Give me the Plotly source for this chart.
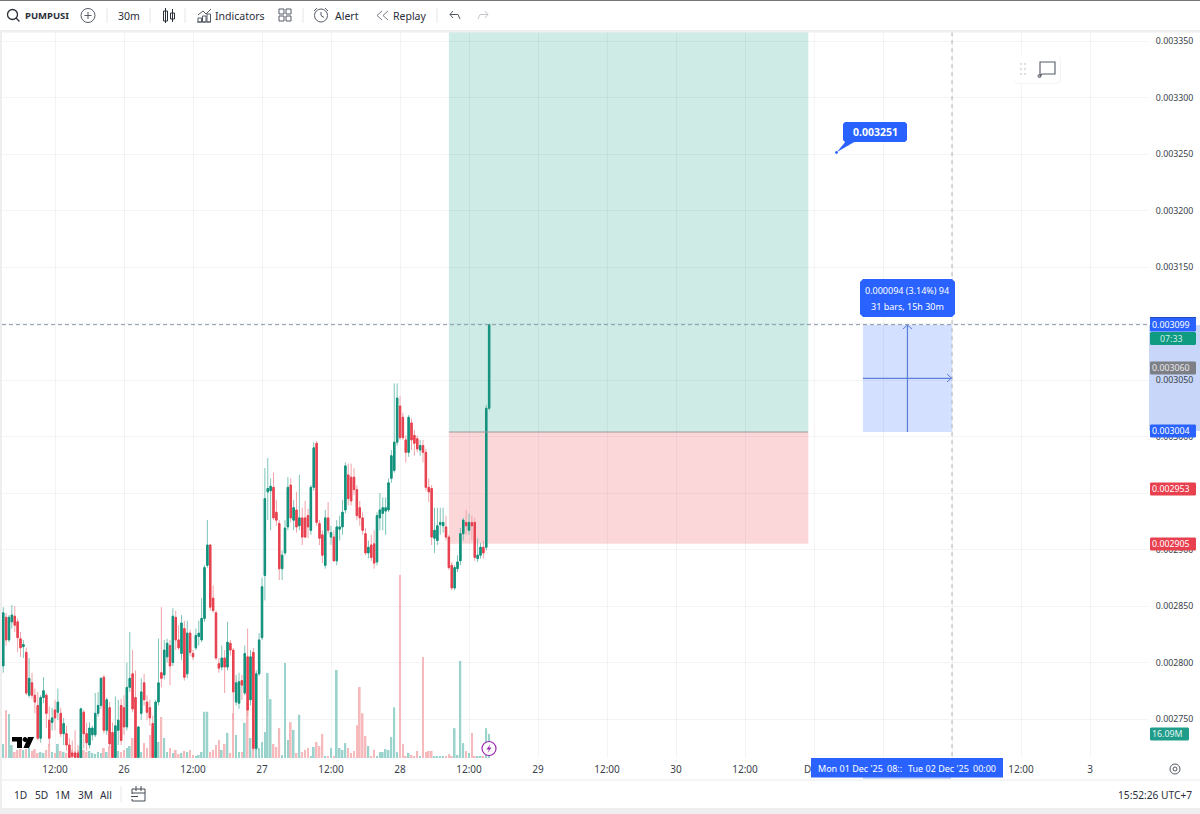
import numpy as np
import pandas as pd
import plotly.graph_objects as go

# prices in millionths
opens = [2797,2840,2820,2836,2841,2836,2821,2814,2809,2771,
         2782,2771,2762,2733,2769,2771,2749,2747,2758,2756,
         2755,2737,2737,2727,2720,2720,2720,2716,2756,2737,
         2727,2736,2736,2755,2762,2787,2740,2760,2738,2716,
         2740,2762,2760,2743,2778,2790,2769,2716,2755,2782,
         2765,2760,2746,2716,2765,2791,2789,2805,2815,2800,
         2840,2820,2808,2830,2790,2826,2808,2813,2823,2820,
         2839,2886,2904,2857,2844,2799,2796,2804,2796,2817,
         2811,2765,2764,2784,2773,2805,2767,2809,2724,2790,
         2822,2877,2951,2952,2955,2933,2923,2883,2897,2920,
         2957,2926,2935,2921,2928,2928,2930,2917,2955,2994,
         2923,2913,2886,2928,2911,2911,2890,2918,2920,2935,
         2966,2964,2964,2953,2937,2928,2914,2897,2904,2905,
         2889,2928,2932,2934,2935,2963,2970,2995,3027,3017,
         2997,2986,3012,3001,2998,2988,2992,2986,2955,2954,
         2910,2908,2922,2921,2920,2911,2886,2866,2883,2890,
         2914,2924,2917,2924,2924,2892,2895,2902,2902,3025]
highs = [2849,2844,2842,2851,2850,2839,2827,2820,2813,2804,
         2791,2777,2774,2771,2787,2773,2761,2760,2767,2777,
         2760,2751,2744,2733,2731,2740,2727,2760,2758,2747,
         2747,2744,2773,2774,2787,2789,2769,2765,2747,2770,
         2767,2768,2771,2800,2827,2811,2793,2743,2786,2790,
         2771,2767,2753,2767,2821,2849,2820,2821,2820,2848,
         2846,2833,2842,2837,2837,2829,2811,2830,2837,2857,
         2886,2926,2905,2868,2846,2804,2815,2811,2836,2820,
         2813,2789,2791,2789,2815,2830,2811,2813,2793,2826,
         2875,2972,2981,2963,2968,2944,2926,2899,2926,2964,
         2963,2944,2951,2966,2937,2943,2936,2957,2995,2996,
         2926,2917,2935,2942,2921,2917,2926,2930,2944,2977,
         2976,2976,2972,2957,2943,2933,2919,2908,2913,2917,
         2933,2950,2946,2946,2963,2988,3047,3047,3036,3021,
         3001,3019,3016,3006,3001,2997,2997,2989,2963,2957,
         2937,2937,2937,2937,2930,2913,2889,2886,2895,2919,
         2928,2935,2932,2930,2928,2910,2906,2908,3028,3099]
lows = [2791,2815,2818,2830,2827,2809,2805,2804,2771,2769,
        2768,2755,2731,2729,2764,2742,2726,2740,2740,2749,
        2734,2727,2722,2715,2712,2712,2712,2712,2724,2722,
        2724,2731,2734,2752,2759,2737,2736,2724,2712,2712,
        2727,2727,2736,2740,2774,2756,2712,2712,2749,2762,
        2749,2744,2712,2712,2762,2778,2785,2800,2780,2797,
        2811,2811,2802,2784,2786,2806,2802,2811,2815,2818,
        2836,2884,2846,2844,2802,2791,2793,2773,2793,2806,
        2749,2762,2759,2767,2771,2753,2762,2722,2722,2788,
        2820,2855,2926,2917,2926,2921,2873,2873,2895,2917,
        2924,2917,2915,2917,2904,2910,2910,2913,2952,2921,
        2904,2888,2883,2914,2904,2889,2886,2908,2913,2932,
        2939,2939,2948,2926,2921,2913,2895,2892,2890,2883,
        2886,2917,2917,2913,2933,2959,2968,2992,2997,2997,
        2977,2982,2988,2983,2986,2983,2977,2952,2942,2904,
        2897,2904,2913,2915,2908,2882,2864,2864,2880,2886,
        2908,2913,2913,2908,2890,2889,2892,2892,2899,3023]
closes = [2844,2820,2840,2842,2833,2822,2813,2816,2773,2786,
          2771,2765,2733,2769,2775,2755,2733,2751,2751,2765,
          2737,2746,2727,2716,2717,2716,2716,2759,2737,2729,
          2742,2742,2755,2762,2786,2740,2767,2728,2716,2744,
          2749,2731,2743,2778,2786,2759,2716,2743,2774,2767,
          2756,2751,2716,2765,2782,2786,2811,2817,2797,2841,
          2820,2813,2835,2787,2826,2809,2805,2824,2826,2839,
          2884,2904,2849,2846,2804,2795,2804,2796,2818,2811,
          2774,2782,2783,2780,2808,2758,2805,2724,2790,2820,
          2867,2945,2954,2956,2928,2926,2883,2895,2919,2955,
          2928,2937,2920,2928,2911,2911,2920,2955,2990,2924,
          2910,2895,2928,2917,2915,2890,2920,2920,2933,2974,
          2945,2943,2953,2930,2928,2917,2897,2902,2893,2888,
          2930,2935,2937,2937,2959,2983,2995,3034,2999,2999,
          2986,3017,2997,2994,2989,2992,2986,2955,2951,2911,
          2917,2921,2924,2924,2911,2884,2866,2884,2889,2914,
          2926,2921,2924,2921,2893,2895,2902,2897,3025,3099]
# volume in millions
volumes = [9.4,32,29.5,8.7,4,5.4,6,5.4,6,6.7,
           4.7,6,3.4,4,3.4,5.4,9.4,4,3.4,9.4,
           4.7,4,3.4,4,5.4,4.7,5.4,8,5.4,4,
           4.7,3.4,2.7,4,3.4,6.7,4,8,5.4,9.4,
           4.7,4,5.4,6.7,8,13.4,16.8,3.4,4,10,
           6.7,15.4,20,4.7,10.7,27.5,13.4,4,6.7,3.4,
           5.4,2.7,3.4,4.7,4,5.4,2,1.3,2,4,
           31,31,4,5.4,8.7,12,5.4,9.4,16.8,3.4,
           30,15.4,4,4,23.5,33.5,13.4,23.5,10,6.7,
           10.7,17.4,57,39.5,9.4,7.4,20,2,63.7,12,
           24,18.8,3.4,29,4,5.4,6.7,1.3,7.4,10.7,
           8,16.1,1.3,1.3,6.7,1.3,59,6.7,5.4,10,
           6.7,3.4,4.7,22,47.6,30,14.7,8,1.3,5.4,
           1.3,4,4,6,5.4,14,34,4,122.6,9.4,
           0.7,3.4,2,0.7,4.7,0.7,67.7,4,4.7,4.7,
           1.3,1.3,1.3,1.3,1.3,2.7,1.3,20,2,65,
           10,4.7,3.4,16.8,1.3,1.3,1.3,1.3,20,16.09]

tick_times = ["2025-11-25 12:00","2025-11-26 00:00","2025-11-26 12:00","2025-11-27 00:00",
              "2025-11-27 12:00","2025-11-28 00:00","2025-11-28 12:00","2025-11-29 00:00",
              "2025-11-29 12:00","2025-11-30 00:00","2025-11-30 12:00","2025-12-01 00:00",
              "2025-12-01 12:00","2025-12-02 00:00","2025-12-02 12:00","2025-12-03 00:00"]
# the blank ones sit under the blue crosshair box
tick_labels = ["12:00","26","12:00","27","12:00","28","12:00","29",
               "12:00","30","12:00","","","","12:00","3"]
price_ticks = [0.00275,0.0028,0.00285,0.0029,0.00295,0.003,0.00305,0.0031,0.00315,0.0032,0.00325,0.0033,0.00335]
price_labels = ["0.002750","0.002800","0.002850","0.002900","","0.003000","0.003050","",
                "0.003150","0.003200","0.003250","0.003300","0.003350"]

entry_price = 0.003004
stop_price = 0.002905
target_price = 0.00340
last_price = 0.003099
trade_start = "2025-11-28 08:30"
trade_end = "2025-11-30 23:00"
measure_start = "2025-12-01 08:30"
measure_mid = "2025-12-01 16:15"
measure_end = "2025-12-02 00:00"

TEAL = "#12917c"
RED = "#e8404f"
BLUE = "#2962ff"
INK = "#2a2e39"
GREY = "#555a66"
FONT = "Noto Sans"

times = pd.date_range("2025-11-25 03:00", periods=len(closes), freq="30min")
o = np.array(opens) / 1e6
h = np.array(highs) / 1e6
l = np.array(lows) / 1e6
c = np.array(closes) / 1e6
vol_colors = ["#9ad3cb" if b >= a else "#f6b9bc" for a, b in zip(opens, closes)]


# chrome is placed in page pixels
def px(x):
    return (x - 2) / 1146


def py(y):
    return (758 - y) / 726


shapes = []
notes = []


def line(x0, y0, x1, y1, color=INK, w=1, dash="solid", layer="above"):
    shapes.append(dict(type="line", xref="paper", yref="paper", x0=px(x0), x1=px(x1), y0=py(y0), y1=py(y1),
                       line=dict(color=color, width=w, dash=dash), layer=layer))


def box(x0, y0, x1, y1, fill=None, edge=None, w=1, layer="above"):
    shapes.append(dict(type="rect", xref="paper", yref="paper", x0=px(x0), x1=px(x1), y0=py(y0), y1=py(y1),
                       fillcolor=fill or "rgba(0,0,0,0)", line=dict(color=edge or "rgba(0,0,0,0)", width=w), layer=layer))


def ring(cx, cy, r, edge=INK, w=1, fill=None):
    shapes.append(dict(type="circle", xref="paper", yref="paper", x0=px(cx - r), x1=px(cx + r), y0=py(cy - r), y1=py(cy + r),
                       fillcolor=fill or "rgba(0,0,0,0)", line=dict(color=edge, width=w)))


def poly(points, fill=None, edge=None, w=1, closed=True):
    d = "M " + " L ".join(f"{px(x):.5f},{py(y):.5f}" for x, y in points) + (" Z" if closed else "")
    shapes.append(dict(type="path", xref="paper", yref="paper", path=d, fillcolor=fill or "rgba(0,0,0,0)",
                       line=dict(color=edge or "rgba(0,0,0,0)", width=w)))


def rounded(x0, y0, x1, y1, fill, r=2, edge=None):
    poly([(x0 + r, y0), (x1 - r, y0), (x1, y0 + r), (x1, y1 - r), (x1 - r, y1), (x0 + r, y1), (x0, y1 - r), (x0, y0 + r)],
         fill=fill, edge=edge)


def text(x, y, s, size=10.5, color=INK, anchor="center", bold=False):
    notes.append(dict(xref="paper", yref="paper", x=px(x), y=py(y), text=f"<b>{s}</b>" if bold else s, showarrow=False,
                      xanchor=anchor, yanchor="middle", font=dict(family=FONT, size=size, color=color), borderpad=0))


def tag(y, s, fill, color="#ffffff", x1=1196, h=13):
    rounded(1150, y - h / 2, x1, y + h / 2, fill, r=1)
    text((1150 + x1) / 2 - 2, y, s, size=8.8, color=color)


# page frame
box(0, 0, 1200, 1, fill="#77747c")
box(0, 30, 1200, 32.5, fill="#eeeeee")
box(0, 30, 2, 812, fill="#eeeeee")
box(0, 808, 1200, 814, fill="#eeeeee")
line(2, 780, 1200, 780, color="#ebebeb")
line(121, 786, 121, 802, color="#e6e6e6")

# top toolbar
ring(12.5, 14.5, 5, w=1.3)
line(16, 18, 19.5, 21.5, w=1.3)
text(24, 15.5, "PUMPUSI", size=9.5, anchor="left", bold=True)
ring(88, 15.5, 7, GREY)
line(84.5, 15.5, 91.5, 15.5, color=GREY)
line(88, 12, 88, 19, color=GREY)
for sx in [107, 150, 185, 303, 437]:
    line(sx, 8, sx, 23, color="#e6e6e6")
text(129, 15.5, "30m")
box(163.5, 11, 167.5, 21, edge=INK)
line(165.5, 8, 165.5, 23)
box(170.5, 13, 174.5, 19, edge=INK)
line(172.5, 9, 172.5, 22)
poly([(198, 15), (203, 11), (206, 14), (211, 9)], edge=GREY, closed=False)
for bx, by in [(198, 18), (202.5, 16), (207, 14)]:
    box(bx, by, bx + 3.5, 22, edge=GREY)
line(197, 22, 211, 22, color=GREY)
text(240, 15.5, "Indicators")
for bx in [279, 286]:
    for by in [9, 16]:
        box(bx, by, bx + 5, by + 5, edge=GREY)
ring(321, 15.5, 6.5, GREY)
line(321, 12, 321, 15.5, color=GREY)
line(321, 15.5, 324, 17.5, color=GREY)
line(314, 11, 317, 8, color=GREY)
line(325, 8, 328, 11, color=GREY)
text(347, 15.5, "Alert")
poly([(382, 11), (377, 15.5), (382, 20)], edge="#777c88", closed=False)
poly([(388, 11), (383, 15.5), (388, 20)], edge="#777c88", closed=False)
text(410, 15.5, "Replay")
poly([(453, 11), (450, 14.5), (453, 18)], edge=GREY, closed=False)
poly([(450, 14.5), (458, 14.5), (460, 19)], edge=GREY, closed=False)
poly([(485, 11), (488, 14.5), (485, 18)], edge="#c4c6cc", closed=False)
poly([(488, 14.5), (480, 14.5), (478, 19)], edge="#c4c6cc", closed=False)

# bottom toolbar
for bx, s in zip([20, 41, 62, 85, 106], ["1D", "5D", "1M", "3M", "All"]):
    text(bx, 794.5, s, size=10.2)
box(132, 789, 145, 801, edge="#444a55")
line(136, 786, 136, 791, color="#444a55")
line(141, 786, 141, 791, color="#444a55")
line(132, 793, 145, 793, color="#444a55")
box(129, 794, 137, 799, fill="#ffffff")
line(131, 796.5, 138, 796.5, color="#444a55")
text(1193, 794.5, "15:52:26 UTC+7", size=10.2, anchor="right")
ring(1175, 769, 5, GREY)
ring(1175, 769, 2, GREY)

# TradingView mark
poly([(12, 737), (22, 737), (22, 748), (17, 748), (17, 741.5), (12, 741.5)], fill="#000000")
ring(25, 739.5, 2, "#000000", fill="#000000")
poly([(28, 737), (34, 737), (29, 748), (23.5, 748)], fill="#000000")

# lightning badge
ring(489, 748.5, 7, "#9c27b0", w=1.2, fill="#ffffff")
poly([(490.5, 744), (486.5, 749.5), (489, 749.5), (487.5, 753), (491.5, 747.5), (489, 747.5)], fill="#9c27b0")

# floating widget
rounded(1014, 55, 1061, 84, "#f3f3f3", r=3)
rounded(1014, 55, 1060, 83, "#ffffff", r=3)
for dy in [64, 69, 74]:
    for dx in [1021, 1025]:
        ring(dx, dy, 0.5, "#c8c8c8")
poly([(1040, 62), (1055, 62), (1055, 74), (1042, 74), (1040, 76)], edge=GREY, w=1.1)
ring(1039.5, 76, 1.5, GREY)

# axis markers
box(1149, 325, 1200, 431, fill="#c8d7f9", layer="below")
line(1150, 317.5, 1196, 317.5, color="#1a3a8a", w=1)
tag(324.5, "0.003099", BLUE, h=14)
tag(338.5, "07:33", "#0e9b82", color="#cdeee6")
tag(368, "0.003060", "#7d7f86", color="#e8e8e8")
tag(431, "0.003004", BLUE)
tag(489, "0.002953", RED)
tag(544, "0.002905", RED)
tag(734, "16.09M", "#1f9d8a", color="#e4f6f2", x1=1189)

# time range markers
text(808, 769, "D", size=10, color="#3a3f4b")
box(863, 776, 951, 779, fill="#c8d7f9")
box(811, 758, 1003, 777.5, fill=BLUE)
text(817, 768, "Mon 01 Dec '25", size=9, color="#ffffff", anchor="left")
text(886, 768, "08::", size=9, color="#ffffff", anchor="left")
text(907, 768, "Tue 02 Dec '25", size=9, color="#ffffff", anchor="left")
text(972, 768, "00:00", size=9, color="#ffffff", anchor="left")

# measure tool labels and arrows
rounded(860, 279, 955, 317, BLUE, r=3)
text(907.5, 290, "0.000094 (3.14%) 94", size=9, color="#ffffff")
text(907.5, 306, "31 bars, 15h 30m", size=9, color="#ffffff")
poly([(947, 374), (951.5, 378), (947, 382)], edge="#5b7fd8", closed=False)
poly([(903, 329), (907.5, 325), (912, 329)], edge="#5b7fd8", closed=False)

# price note
rounded(843, 122, 907, 142, BLUE, r=2)
poly([(846, 141), (856, 141), (837, 152)], fill=BLUE)
ring(836.5, 152.5, 1, BLUE, fill=BLUE)
text(875, 132, "0.003251", size=10.5, color="#ffffff", bold=True)


def price_rect(x0, x1, y0, y1, fill):
    return dict(type="rect", xref="x", yref="y2", x0=x0, x1=x1, y0=y0, y1=y1, fillcolor=fill,
                line=dict(width=0), layer="below")


def price_line(x0, x1, y0, y1, color, w=1, dash="solid", layer="above"):
    return dict(type="line", xref="x", yref="y2", x0=x0, x1=x1, y0=y0, y1=y1,
                line=dict(color=color, width=w, dash=dash), layer=layer)


range_left, range_right = "2025-11-25 02:47", "2025-12-03 10:05"
data_shapes = [
    price_rect(trade_start, trade_end, entry_price, target_price, "rgba(8,153,129,0.20)"),
    price_rect(trade_start, trade_end, stop_price, entry_price, "rgba(242,54,69,0.20)"),
    price_line(trade_start, trade_end, entry_price, entry_price, "#9a9a9a", 1.2),
    price_rect(measure_start, measure_end, entry_price, last_price, "rgba(41,98,255,0.20)"),
    price_line(measure_start, measure_end, (entry_price + last_price) / 2, (entry_price + last_price) / 2, "#5b7fd8", 1.2),
    price_line(measure_mid, measure_mid, entry_price, last_price, "#5b7fd8", 1.2),
    price_line(range_left, range_right, last_price, last_price, "#8a97a8", 1, "4px,3px"),
    price_line(measure_end, measure_end, 0.00271, 0.00336, "#b0b0b6", 1, "4px,4px"),
]

fig = go.Figure()
fig.add_trace(go.Bar(x=times, y=volumes, marker=dict(color=vol_colors, line=dict(width=0)),
                     width=1100000, yaxis="y", hoverinfo="skip"))
# pale full range wicks, then the strong bodies on top
fig.add_trace(go.Candlestick(x=times, open=o, high=h, low=l, close=c, yaxis="y2", whiskerwidth=0,
                             increasing=dict(line=dict(color="#7cc4b8", width=1), fillcolor="#7cc4b8"),
                             decreasing=dict(line=dict(color="#f0a3a9", width=1), fillcolor="#f0a3a9"),
                             hoverinfo="skip"))
fig.add_trace(go.Candlestick(x=times, open=o, high=np.maximum(o, c), low=np.minimum(o, c), close=c, yaxis="y2",
                             whiskerwidth=0,
                             increasing=dict(line=dict(color=TEAL, width=1), fillcolor=TEAL),
                             decreasing=dict(line=dict(color=RED, width=1), fillcolor=RED),
                             hoverinfo="skip"))

GRID = "rgba(42,46,57,0.05)"
fig.update_layout(
    width=1200, height=814, showlegend=False, paper_bgcolor="#ffffff", plot_bgcolor="#ffffff",
    margin=dict(l=2, r=52, t=32, b=56), font=dict(family=FONT, size=10, color=INK),
    xaxis=dict(type="date", range=[range_left, range_right], rangeslider=dict(visible=False),
               tickmode="array", tickvals=tick_times, ticktext=tick_labels, ticks="outside", ticklen=2,
               tickcolor="rgba(0,0,0,0)", tickfont=dict(size=10, color="#3a3f4b"), showgrid=True, gridcolor=GRID,
               gridwidth=1, showline=False, zeroline=False),
    yaxis=dict(range=[0, 486.6], visible=False, showgrid=False, fixedrange=True),
    yaxis2=dict(overlaying="y", side="right", range=[0.0027155, 0.003358], tickmode="array", tickvals=price_ticks,
                ticktext=price_labels, ticks="outside", ticklen=5, tickcolor="rgba(0,0,0,0)",
                tickfont=dict(size=8.8, color="#3a3f4b"), showgrid=True, gridcolor=GRID, gridwidth=1,
                showline=False, zeroline=False),
    shapes=data_shapes + shapes, annotations=notes, hovermode=False,
)

fig.write_html("out.html", config=dict(displayModeBar=False),
               post_script="document.body.style.margin='0';document.body.style.overflow='hidden';")
